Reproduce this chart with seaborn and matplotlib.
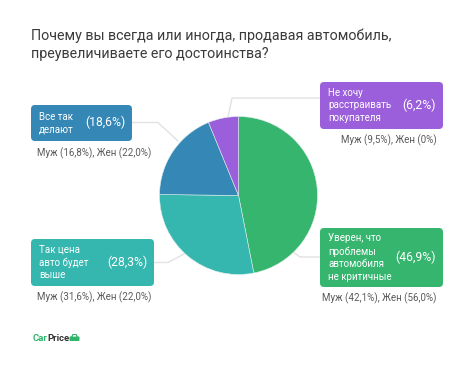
import matplotlib
matplotlib.use("Agg")
import matplotlib.pyplot as plt
from matplotlib.patches import FancyBboxPatch, Polygon, Circle
import seaborn as sns

sns.set_theme(style="white")
plt.rcParams['font.family'] = ['Roboto', 'DejaVu Sans']

title = "Почему вы всегда или иногда, продавая автомобиль,\nпреувеличиваете его достоинства?"
values = [46.9, 28.3, 18.6, 6.2]
colors = ["#36B56F", "#35B6AE", "#3588B5", "#9B5FDB"]
labels = ["Уверен, что\nпроблемы\nавтомобиля\nне критичные", "Так цена\nавто будет\nвыше",
          "Все так\nделают", "Не хочу\nрасстраивать\nпокупателя"]
pcts = ["(46,9%)", "(28,3%)", "(18,6%)", "(6,2%)"]
subs = ["Муж (42,1%), Жен (56,0%)", "Муж (31,6%), Жен (22,0%)",
        "Муж (16,8%), Жен (22,0%)", "Муж (9,5%), Жен (0%)"]
palette = sns.color_palette(colors)

W, H = 473, 368
fig = plt.figure(figsize=(W / 100, H / 100), dpi=100, facecolor="white")
bg = fig.add_axes([0, 0, 1, 1])
bg.set_xlim(0, W); bg.set_ylim(H, 0); bg.axis("off")

# layout, in pixels
boxes = [(320, 228, 123, 59), (31, 239, 123, 47), (31, 105, 101, 36), (320, 82, 123, 47)]
sub_pos = [(436.5, 298, "right"), (37, 297.5, "left"), (37, 153, "left"), (436.5, 140, "right")]
leaders = [[(320, 257), (300, 257), (293, 252)], [(154, 262.5), (168, 262.5), (184, 254)],
           [(132, 122.5), (158, 122.5), (178, 141)], [(320, 98), (232, 98), (228, 117)]]

for line in leaders:
    bg.plot(*zip(*line), color="#E2E2E2", lw=1.0, zorder=1)

for (x, y, w, h), c, lab, pct, sub, (sx, sy, ha) in zip(boxes, palette, labels, pcts, subs, sub_pos):
    bg.add_patch(FancyBboxPatch((x + 4, y + 4), w - 8, h - 8, boxstyle="round,pad=4,rounding_size=4",
                                fc=c, ec="none", zorder=2))
    bg.text(x + 8, y + h / 2, lab, color="white", fontsize=7, va="center", ha="left",
            linespacing=1.32, zorder=3)
    bg.text(x + w - 7, y + h / 2 - 0.5, pct, color="white", fontsize=8.8, va="center", ha="right", zorder=3)
    bg.text(sx, sy, sub, color="#5A5A5A", fontsize=7, va="center", ha=ha)

bg.text(31, 44.5, title, color="#3A3A3A", fontsize=10.25, va="center", ha="left", linespacing=1.36)

# logo
bg.text(33, 338.5, "Car", color="#2DB56B", fontsize=6.8, fontweight="bold", va="center", ha="left")
bg.text(47.5, 338.5, "Price", color="#333333", fontsize=6.8, fontweight="bold", va="center", ha="left")
bg.add_patch(FancyBboxPatch((70, 337), 9, 3.5, boxstyle="round,pad=0.5,rounding_size=1", fc="#2DB56B", ec="none"))
bg.add_patch(Polygon([(71, 337), (72.5, 334), (76.5, 334), (78, 337)], closed=True, fc="#2DB56B", ec="none"))
bg.add_patch(Polygon([(72.6, 336.6), (73.4, 335), (75.6, 335), (76.4, 336.6)], closed=True, fc="white", ec="none"))

pie_ax = fig.add_axes([159.5 / W, 1 - 274.5 / H, 158 / W, 158 / H])
pie_ax.pie(values, colors=palette, startangle=90, counterclock=False, radius=1,
           wedgeprops=dict(edgecolor="#DDEEEA", linewidth=0.4))
pie_ax.set_xlim(-1, 1); pie_ax.set_ylim(-1, 1)

fig.savefig("out.png", dpi=100, facecolor="white")
